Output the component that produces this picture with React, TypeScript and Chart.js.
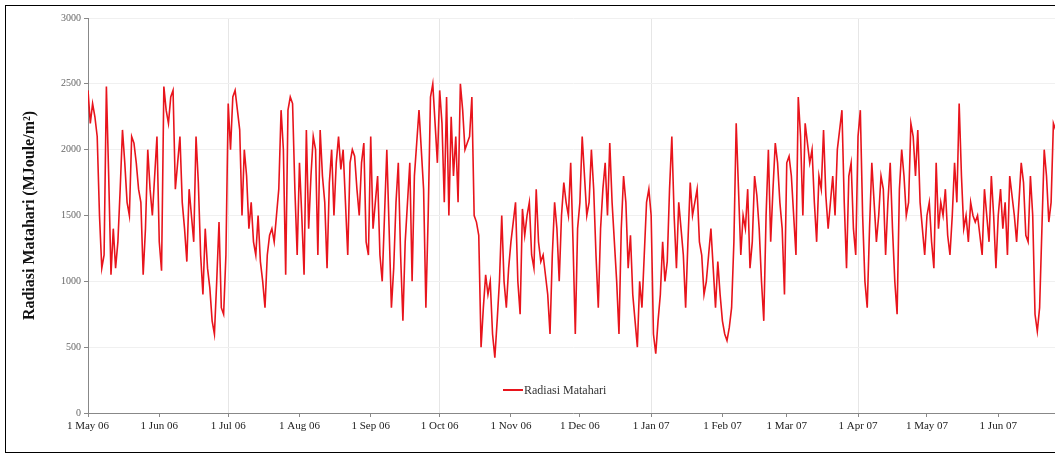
import React, { useEffect, useRef } from "react";
import { Chart, registerables } from "chart.js";
Chart.register(...registerables);

const monthLabels = ["1 May 06","1 Jun 06","1 Jul 06","1 Aug 06","1 Sep 06","1 Oct 06","1 Nov 06","1 Dec 06","1 Jan 07","1 Feb 07","1 Mar 07","1 Apr 07","1 May 07","1 Jun 07"];
const monthStartDays = [0,31,61,92,123,153,184,214,245,276,304,335,365,396];
const gridMonths = [61,153,245,335];
const yTicks = [0,500,1000,1500,2000,2500,3000];

const may06 = [2450,2200,2350,2250,2100,1500,1100,1200,2480,1800,1050,1400,1100,1300,1700,2150,1900,1600,1500,2100,2050,1900,1700,1600,1050,1400,2000,1700,1500,1800,2100];
const jun06 = [1300,1080,2480,2300,2200,2400,2450,1700,1900,2100,1600,1400,1150,1700,1500,1300,2100,1750,1200,900,1400,1100,950,700,600,1000,1450,800,750,1200];
const jul06 = [2350,2000,2400,2450,2300,2150,1500,2000,1800,1400,1600,1300,1200,1500,1150,1000,800,1200,1350,1400,1300,1500,1700,2300,2000,1050,2300,2400,2350,1700,1200];
const aug06 = [1900,1500,1050,2150,1400,1800,2100,2000,1200,2150,1800,1600,1100,1750,2000,1500,1900,2100,1850,2000,1600,1200,1900,2000,1950,1700,1500,1900,2050,1300,1200];
const sep06 = [2100,1400,1600,1800,1200,1000,1500,2000,1400,800,1100,1600,1900,1200,700,1300,1600,1900,1000,1800,2050,2300,2000,1700,800,1500,2400,2500,2200,1900];
const oct06 = [2450,2200,1600,2400,1500,2250,1800,2100,1600,2500,2300,2000,2050,2100,2400,1500,1450,1350,500,800,1050,900,1000,600,420,700,1000,1500,1000,800,1100];
const nov06 = [1300,1450,1600,1000,750,1550,1350,1500,1600,1200,1100,1700,1300,1150,1200,1050,900,600,1200,1600,1400,1000,1500,1750,1600,1500,1900,1300,600,1400];
const dec06 = [1600,2100,1800,1500,1600,2000,1700,1200,800,1400,1700,1900,1500,2050,1600,1300,1000,600,1400,1800,1600,1100,1350,900,700,500,1000,800,1200,1600,1700];
const jan07 = [1500,600,450,700,900,1300,1000,1150,1700,2100,1500,1100,1600,1400,1200,800,1300,1750,1500,1600,1700,1300,1200,900,1000,1200,1400,1100,800,1150,900];
const feb07 = [700,600,550,650,800,1300,2200,1700,1200,1500,1400,1700,1100,1300,1800,1650,1400,1000,700,1500,2000,1300,1700,2050,1900,1600,1400,900];
const mar07 = [1900,1950,1800,1500,1200,2400,2100,1500,2200,2050,1900,2000,1600,1300,1800,1700,2150,1650,1400,1600,1800,1500,2000,2150,2300,1600,1100,1800,1900,1400,1200];
const apr07 = [2100,2300,1500,1000,800,1400,1900,1600,1300,1500,1800,1700,1200,1600,1900,1400,1000,750,1700,2000,1800,1500,1600,2200,2100,1800,2150,1600,1400,1200];
const may07 = [1500,1600,1300,1100,1900,1400,1600,1500,1700,1350,1200,1500,1900,1600,2350,1800,1400,1500,1300,1600,1500,1450,1500,1350,1200,1700,1500,1300,1800,1500,1100];
const jun07 = [1500,1700,1400,1600,1200,1800,1650,1500,1300,1600,1900,1750,1350,1300,1800,1500,750,620,800,1400,2000,1800,1450,1600,2200,2150];

const radiasi = [...may06,...jun06,...jul06,...aug06,...sep06,...oct06,...nov06,...dec06,...jan07,...feb07,...mar07,...apr07,...may07,...jun07];

export default function App() {
  const ref = useRef<HTMLCanvasElement>(null);
  useEffect(() => {
    document.body.style.margin = "0";
    document.body.style.overflow = "hidden";
    const legendPlugin = {
      id: "inLegend",
      afterDraw(chart: any) {
        const ctx = chart.ctx;
        const a = chart.chartArea;
        const y = a.bottom - 23;
        const cx = 507;
        ctx.save();
        ctx.strokeStyle = "#e8141c";
        ctx.lineWidth = 2;
        ctx.beginPath();
        ctx.moveTo(cx - 10, y);
        ctx.lineTo(cx + 10, y);
        ctx.stroke();
        ctx.fillStyle = "#333";
        ctx.font = "12px 'Liberation Serif', serif";
        ctx.textBaseline = "middle";
        ctx.fillText("Radiasi Matahari", cx + 11, y + 1);
        ctx.restore();
      },
    };
    const chart = new Chart(ref.current!, {
      type: "line",
      data: {
        datasets: [{
          label: "Radiasi Matahari",
          data: radiasi.map((v, i) => ({ x: i, y: v })),
          borderColor: "#e8141c",
          borderWidth: 1.6,
          pointRadius: 0,
          tension: 0,
        }],
      },
      plugins: [legendPlugin],
      options: {
        animation: false,
        responsive: false,
        layout: { padding: { left: 14, top: 12, right: 8, bottom: 14 } },
        plugins: { legend: { display: false }, tooltip: { enabled: false } },
        scales: {
          x: {
            type: "linear",
            min: 0,
            max: 422,
            afterBuildTicks(s: any) { s.ticks = monthStartDays.map((v) => ({ value: v })); },
            afterFit(s: any) { s.height = 25; },
            ticks: {
              autoSkip: false,
              maxRotation: 0,
              color: "#222",
              font: { family: "'Liberation Serif', serif", size: 11 },
              callback: (v: any) => monthLabels[monthStartDays.indexOf(v)] ?? "",
            },
            grid: {
              color: (c: any) => (gridMonths.includes(c.tick?.value) ? "#e6e6e6" : "rgba(0,0,0,0)"),
              tickColor: "#888",
              tickLength: 4,
            },
            border: { color: "#888" },
          },
          y: {
            min: 0,
            max: 3000,
            afterBuildTicks(s: any) { s.ticks = yTicks.map((v) => ({ value: v })); },
            afterFit(s: any) { s.width = 68; },
            ticks: { color: "#666", font: { family: "'Liberation Serif', serif", size: 10 }, callback: (v: any) => String(v) },
            grid: { color: (c: any) => (c.tick?.value === 0 ? "rgba(0,0,0,0)" : "#f0f0f0"), tickColor: "#888", tickLength: 4 },
            border: { color: "#888" },
            title: {
              display: true,
              text: "Radiasi Matahari (MJoule/m²)",
              color: "#111",
              font: { family: "'Liberation Serif', serif", size: 16, weight: "bold" },
              padding: { top: 0, bottom: 6 },
            },
          },
        },
      },
    });
    return () => chart.destroy();
  }, []);
  return (
    <div style={{ position: "absolute", left: 5, top: 5, width: 1060, height: 446, border: "1px solid #000", overflow: "hidden", background: "#fff" }}>
      <canvas ref={ref} width={1060} height={446} style={{ display: "block" }} />
    </div>
  );
}
